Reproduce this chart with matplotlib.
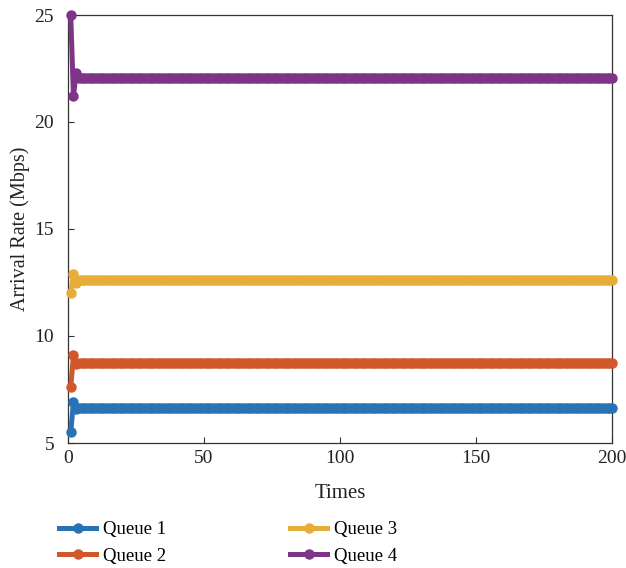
import matplotlib
matplotlib.use("Agg")
import matplotlib.pyplot as plt
import numpy as np

plt.rcParams['font.family'] = ['Liberation Serif', 'DejaVu Serif']

times = list(range(1, 201))
n_tail = len(times) - 3
queue1 = [5.5, 6.9, 6.6] + [6.65] * n_tail
queue2 = [7.6, 9.1, 8.7] + [8.75] * n_tail
queue3 = [12.0, 12.9, 12.5] + [12.6] * n_tail
queue4 = [25.0, 21.2, 22.3] + [22.05] * n_tail

names = ["Queue 1", "Queue 2", "Queue 3", "Queue 4"]
colors = ["#2873b5", "#d2572a", "#e6ae38", "#7e3588"]

fig = plt.figure(figsize=(6.26, 5.68), dpi=100)
ax = fig.add_axes([68/626, (568-443)/568, (612-68)/626, (443-15)/568])

handles = []
for vals, name, c in zip([queue1, queue2, queue3, queue4], names, colors):
    h, = ax.plot(times, vals, color=c, lw=3.6, marker='o', ms=6.5, label=name,
                 clip_on=False, zorder=3)
    handles.append(h)

ax.set_xlim(0, 200)
ax.set_ylim(5, 25)
ax.set_xticks([0, 50, 100, 150, 200])
ax.set_yticks([5, 10, 15, 20, 25])
ax.tick_params(direction='in', labelsize=14, length=4, color='#333333',
               labelcolor='#222222')
ax.tick_params(axis='x', pad=5)
ax.tick_params(axis='y', pad=10)
for s in ax.spines.values():
    s.set_linewidth(0.9)
    s.set_color('#333333')
ax.set_xlabel("Times", fontsize=15, color='#222222', labelpad=12)
ax.set_ylabel("Arrival Rate (Mbps)", fontsize=14.5, color='#222222', labelpad=3)

fig.legend(handles=handles, ncol=2,
           loc='center left', bbox_to_anchor=(42/626, 1 - 543/568),
           frameon=False, fontsize=13.5, columnspacing=6.6, handlelength=2.0,
           labelspacing=0.5, handletextpad=0.35)

fig.savefig("out.png", dpi=100)
